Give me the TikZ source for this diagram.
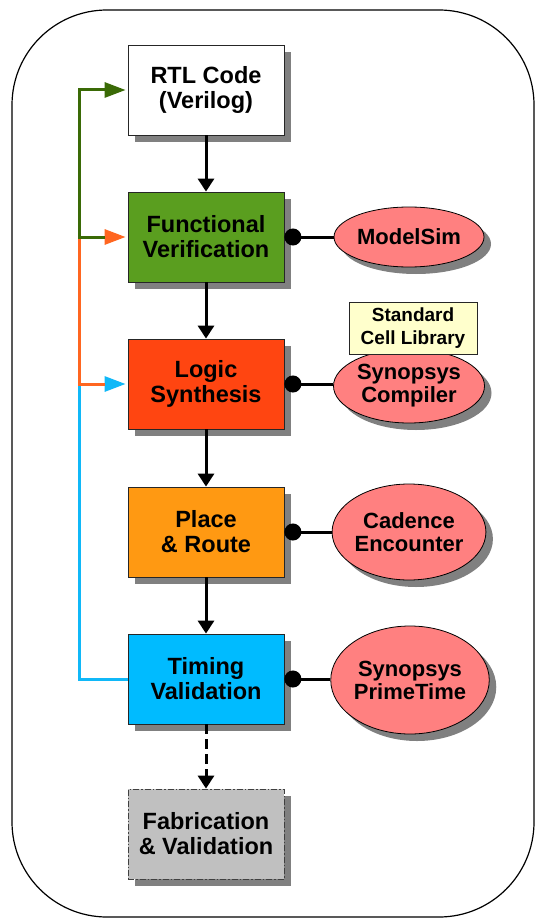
\documentclass[tikz,border=0pt]{standalone}
\usepackage{fontspec}
\setmainfont{Liberation Sans}
\usetikzlibrary{shapes.geometric,arrows.meta,shadows}
\definecolor{fvgreen}{HTML}{5A9E1F}
\definecolor{lsred}{HTML}{FF4511}
\definecolor{prorange}{HTML}{FF9912}
\definecolor{tvblue}{HTML}{00BBFF}
\definecolor{fabgray}{HTML}{C0C0C0}
\definecolor{toolred}{HTML}{FF8080}
\definecolor{libyellow}{HTML}{FFFFCC}
\definecolor{fbgreen}{HTML}{3A6A06}
\definecolor{fborange}{HTML}{FF6620}
\definecolor{fbblue}{HTML}{10B8F8}
\begin{document}
\begin{tikzpicture}[x=1pt,y=-1pt,
  shad/.style={drop shadow={shadow xshift=7pt,shadow yshift=-7pt,fill=black!50,opacity=1}},
  stage/.style={shad,draw=black!85,line width=0.8pt,minimum width=156pt,minimum height=90pt,inner sep=0pt,align=center,font=\fontsize{23.5}{25}\selectfont\bfseries},
  tool/.style={shad,ellipse,draw=black,line width=0.8pt,fill=toolred,inner sep=0pt,align=center,font=\fontsize{22}{23}\selectfont\bfseries},
  flow/.style={line width=3pt,-{Triangle[length=13pt,width=16pt]}},
  fb/.style={line width=3pt,-{Triangle[length=21pt,width=15pt]},shorten >=2pt},
  link/.style={line width=3pt,{Circle[length=17pt]}-}
]
\useasboundingbox (0,0) rectangle (535,920);
\draw[line width=1.2pt,rounded corners=95pt] (12,10) rectangle (534,917);

% stages
\node[stage,fill=white] (rtl) at (206,90) {RTL Code\\(Verilog)};
\node[stage,fill=fvgreen] (fv) at (206,237) {Functional\\Verification};
\node[stage,fill=lsred] (ls) at (206,384) {Logic\\Synthesis};
\node[stage,fill=prorange] (pr) at (206,532) {Place\\\& Route};
\node[stage,fill=tvblue] (tv) at (206,679) {Timing\\Validation};
\node[stage,fill=fabgray,draw=black!75,dash pattern=on 6pt off 2pt on 1.5pt off 2pt] (fab) at (206,834) {Fabrication\\\& Validation};

% tools
\node[tool,minimum width=150pt,minimum height=60pt] (ms) at (409,237) {ModelSim};
\node[tool,minimum width=151pt,minimum height=74pt] (sc) at (409,386) {Synopsys\\Compiler};
\node[tool,minimum width=152pt,minimum height=96pt] (ce) at (409,532) {Cadence\\Encounter};
\node[tool,minimum width=152pt,minimum height=108pt] (pt) at (410,680) {Synopsys\\PrimeTime};
\node[draw=black!85,line width=0.8pt,fill=libyellow,minimum width=128pt,minimum height=52pt,inner sep=0pt,align=center,font=\fontsize{19}{23}\selectfont\bfseries] (lib) at (413,328) {Standard\\Cell Library};

% flow arrows
\draw[flow] (rtl) -- (fv);
\draw[flow] (fv) -- (ls);
\draw[flow] (ls) -- (pr);
\draw[flow] (pr) -- (tv);
\draw[flow,dash pattern=on 10pt off 5pt] (tv) -- (fab);

% tool links
\draw[link] (fv.east) -- (ms.west);
\draw[link] (ls.east) -- (ls.east -| sc.west);
\draw[link] (pr.east) -- (ce.west);
\draw[link] (tv.east) -- (tv.east -| pt.west);

% feedback loops
\coordinate (xl) at (79,0);
\draw[fb,fbblue] (tv.west) -- (tv.west -| xl) -- (ls.west -| xl) -- (ls.west);
\draw[fb,fborange] ([xshift=-23pt]ls.west) -- (ls.west -| xl) -- (fv.west -| xl) -- (fv.west);
\draw[fb,fbgreen] ([xshift=-23pt]fv.west) -- (fv.west -| xl) -- (rtl.west -| xl) -- (rtl.west);
\end{tikzpicture}
\end{document}
